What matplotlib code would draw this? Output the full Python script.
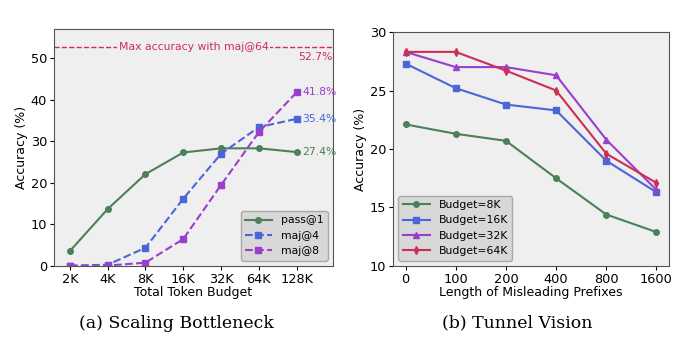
import matplotlib.pyplot as plt

# (a) scaling bottleneck
budgets = ['2K', '4K', '8K', '16K', '32K', '64K', '128K']
pass1 = [3.6, 13.7, 22.1, 27.3, 28.3, 28.3, 27.4]
maj4 = [0.1, 0.3, 4.4, 16.2, 27.0, 33.4, 35.4]
maj8 = [0.0, 0.1, 0.8, 6.5, 19.5, 32.2, 41.8]
max_maj64 = 52.7

# (b) tunnel vision
prefixes = ['0', '100', '200', '400', '800', '1600']
b8k = [22.1, 21.3, 20.7, 17.5, 14.4, 12.9]
b16k = [27.3, 25.2, 23.8, 23.3, 19.0, 16.3]
b32k = [28.3, 27.0, 27.0, 26.3, 20.8, 16.5]
b64k = [28.3, 28.3, 26.7, 25.0, 19.6, 17.1]

green = '#4b8058'
blue = '#4a66d8'
purple = '#9a3fcc'
red = '#cc2e55'
bg = '#efefef'

plt.rcParams['font.family'] = 'DejaVu Sans'
plt.rcParams['font.size'] = 9
plt.rcParams['xtick.labelsize'] = 9.3
plt.rcParams['ytick.labelsize'] = 9.3
plt.rcParams['xtick.major.size'] = 3
plt.rcParams['ytick.major.size'] = 3
plt.rcParams['xtick.major.pad'] = 2
plt.rcParams['ytick.major.pad'] = 2

fig = plt.figure(figsize=(6.94, 3.5), dpi=100)
ax1 = fig.add_axes([54 / 694, 1 - 266 / 350, 279 / 694, 237 / 350])
ax2 = fig.add_axes([393 / 694, 1 - 266 / 350, 276 / 694, 234 / 350])

# left panel
x = list(range(len(budgets)))
ax1.set_facecolor(bg)
ax1.plot(x, pass1, '-', marker='o', color=green, lw=1.5, ms=4, label='pass@1')
ax1.plot(x, maj4, '--', marker='s', color=blue, lw=1.5, ms=4, label='maj@4')
ax1.plot(x, maj8, '--', marker='s', color=purple, lw=1.5, ms=4, label='maj@8')
ax1.axhline(max_maj64, color=red, ls='--', lw=1)
ax1.text(0.5, max_maj64, 'Max accuracy with maj@64', transform=ax1.get_yaxis_transform(),
         ha='center', va='center', color=red, fontsize=7.8,
         bbox=dict(facecolor=bg, edgecolor='none', pad=1))
ax1.text(6.95, max_maj64 - 1.2, f'{max_maj64}%', ha='right', va='top', color=red, fontsize=7.8)
for vals, c in [(pass1, green), (maj4, blue), (maj8, purple)]:
    ax1.text(6.15, vals[-1], f'{vals[-1]}%', ha='left', va='center', color=c, fontsize=7.8)
ax1.set_xticks(x)
ax1.set_xticklabels(budgets)
ax1.set_xlim(-0.42, 6.96)
ax1.set_ylim(0, 57)
ax1.set_yticks([0, 10, 20, 30, 40, 50])
ax1.set_xlabel('Total Token Budget', labelpad=0)
ax1.set_ylabel('Accuracy (%)', labelpad=2)
ax1.legend(loc='lower right', fontsize=7.8, facecolor='#d8d8d8', edgecolor='#aaaaaa',
           framealpha=1, handlelength=2.5)

# right panel
x2 = list(range(len(prefixes)))
ax2.set_facecolor(bg)
ax2.plot(x2, b8k, '-', marker='o', color=green, lw=1.5, ms=4, label='Budget=8K')
ax2.plot(x2, b16k, '-', marker='s', color=blue, lw=1.5, ms=4, label='Budget=16K')
ax2.plot(x2, b32k, '-', marker='^', color=purple, lw=1.5, ms=4, label='Budget=32K')
ax2.plot(x2, b64k, '-', marker='d', color=red, lw=1.5, ms=4, label='Budget=64K')
ax2.set_xticks(x2)
ax2.set_xticklabels(prefixes)
ax2.set_ylim(10, 30)
ax2.set_yticks([10, 15, 20, 25, 30])
ax2.set_xlabel('Length of Misleading Prefixes', labelpad=0)
ax2.set_ylabel('Accuracy (%)', labelpad=2)
ax2.legend(loc='lower left', fontsize=7.8, facecolor='#d8d8d8', edgecolor='#aaaaaa',
           framealpha=1, handlelength=2.5)

for ax in (ax1, ax2):
    for s in ax.spines.values():
        s.set_color('#555555')

fig.text(176 / 694, 1 - 323 / 350, '(a) Scaling Bottleneck', ha='center', va='center',
         family='DejaVu Serif', fontsize=12.5)
fig.text(517 / 694, 1 - 323 / 350, '(b) Tunnel Vision', ha='center', va='center',
         family='DejaVu Serif', fontsize=12.5)

fig.savefig('out.png', dpi=100, facecolor='white')
